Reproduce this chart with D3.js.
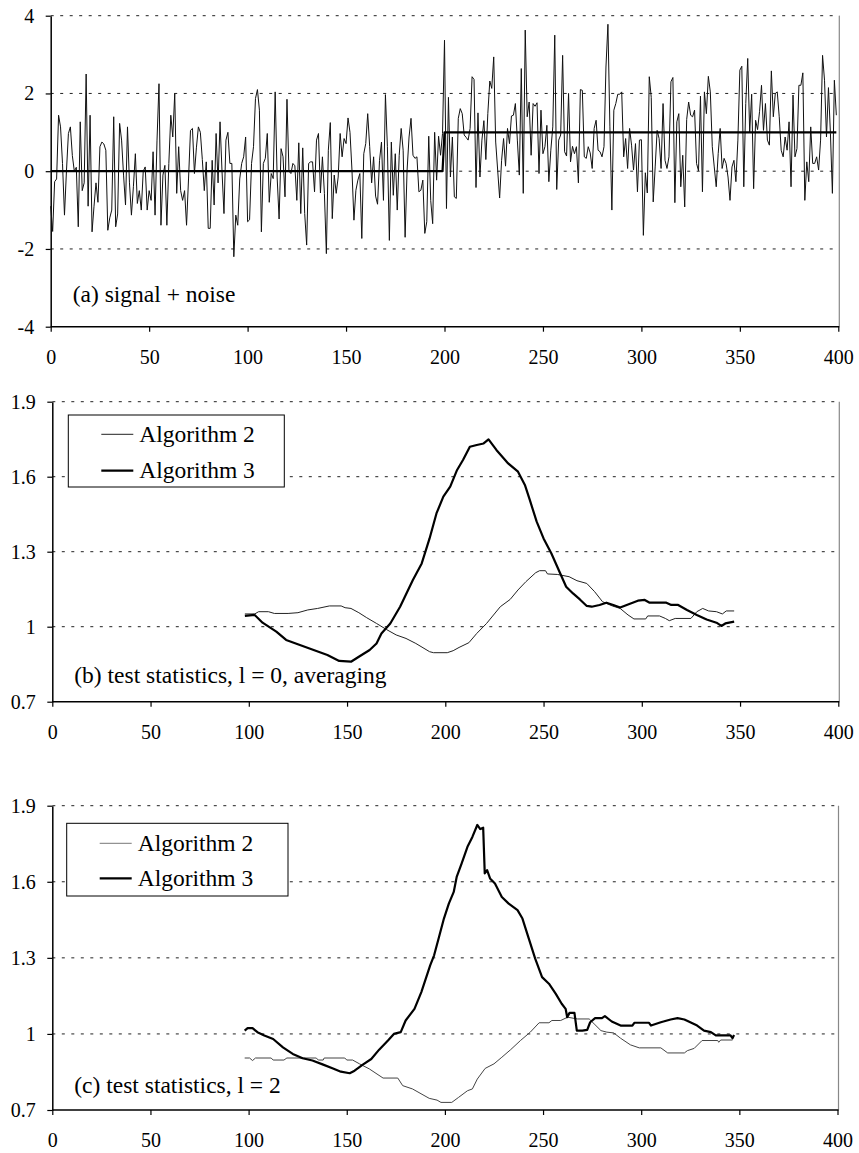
<!DOCTYPE html>
<html>
<head>
<meta charset="utf-8">
<script src="https://cdn.jsdelivr.net/npm/d3@7"></script>
<style>
  body { margin: 0; background: #fff; }
  svg { display: block; }
  text { font-family: "Liberation Serif", "Times New Roman", serif; fill: #000; }
</style>
</head>
<body>
<div id="root"></div>
<script>
// Size of the page
const width = 859;
const height = 1153;

// Tick values
const xTicks = [0, 50, 100, 150, 200, 250, 300, 350, 400];
const yTicksSignal = [-4, -2, 0, 2, 4];
const yTicksStat = [0.7, 1, 1.3, 1.6, 1.9];

// (a) noisy observations, one per sample 0..399
const noise = [
  -0.9, -1.55, -0.27, -0.2, 1.44, 1.14, 0.2, -1.13, 0.0, 0.97,
  1.14, 0.4, 0.0, 0.1, -1.43, 1.27, -0.5, -0.3, 2.5, -0.9,
  1.44, -1.56, -0.9, -0.3, -0.8, 0.63, 0.75, 0.7, 0.54, -1.52,
  -1.2, -1.0, 1.4, -1.43, -1.1, 1.23, 0.8, -0.1, -0.87, 1.14,
  -0.3, -1.13, -0.4, 0.45, -0.83, -0.5, -1.0, 0.0, 0.11, -1.0,
  -0.5, -0.75, 0.5, -1.13, 0.8, 2.25, -1.39, -0.1, 0.15, -1.39,
  0.2, 1.44, 0.88, 2.0, -0.57, 0.63, -0.5, -0.75, -0.5, -1.39,
  -0.2, 1.05, 1.1, -0.06, 0.6, 1.14, 1.0, 0.3, -0.5, 0.24,
  -1.47, -1.47, 0.28, -0.87, 0.97, -0.3, 1.27, 0.0, -1.09, 0.8,
  1.0, 0.2, 0.2, -2.2, -1.13, -1.39, -0.2, 0.2, 0.37, 0.88,
  -1.3, -1.25, 0.2, 0.63, 1.87, 2.1, 1.57, -1.56, 0.2, 0.33,
  0.97, -0.8, -0.06, -0.19, 2.04, -0.15, -1.23, 0.58, 0.37, -0.66,
  1.85, 0.0, -0.06, 0.2, 0.14, -0.75, 0.73, -1.09, 0.6, -1.09,
  -1.9, 0.2, 0.24, 0.24, -0.53, 0.8, 0.97, -0.56, 0.37, -0.57,
  -2.12, 0.54, 1.25, -1.22, -0.1, -0.57, -0.15, 0.97, 0.37, 0.84,
  0.71, 1.37, 1.0, 0.03, -1.26, -0.49, -0.23, -0.06, -1.73, 0.45,
  0.71, 1.48, 0.63, -0.3, 0.37, -0.64, -0.85, 0.28, 0.75, -0.75,
  1.97, 0.63, -1.78, 0.75, -0.62, 0.45, -1.0, 0.41, 1.1, 0.54,
  -1.7, 0.03, 0.88, 1.36, 0.41, 0.33, 0.37, -0.53, -0.49, -0.23,
  -1.6, -1.3, 0.9, -0.75, -1.35, 1.0, -0.23, 0.9, 0.41, 0.97,
  3.37, -0.96, 1.9, -0.15, 0.88, -0.66, -0.7, 1.36, 1.61, 1.48,
  0.93, 0.87, 0.8, 1.1, 2.43, 2.36, -0.42, 1.5, -0.15, 0.8,
  1.3, 0.3, 1.48, 2.32, 2.13, 2.94, 0.75, 0.03, -0.69, 0.28,
  0.84, 0.13, 1.1, 0.71, 1.42, 1.44, 1.74, 0.8, -0.1, 2.64,
  -0.57, 3.63, 1.4, 1.78, 0.41, 1.74, 1.67, 1.76, -0.06, 1.57,
  0.45, 0.63, 1.18, -0.27, 0.54, 1.14, 3.5, -0.47, 0.8, 0.93,
  2.98, 0.5, 0.39, 2.0, 0.24, 0.64, 0.45, 0.63, -0.3, 2.1,
  2.08, 0.37, 0.33, 0.63, 0.47, 0.07, 1.1, 1.31, 0.54, 0.5,
  0.37, 0.63, 2.68, 3.78, 1.14, -1.0, 1.57, 1.74, 1.98, 1.98,
  2.04, 0.37, 0.84, 0.07, 1.1, 0.67, 0.03, 0.71, -0.53, 0.8,
  0.81, -1.65, -0.04, -0.56, 2.43, 1.9, -0.79, 0.11, 1.05, 0.84,
  0.07, 1.74, 0.28, 0.07, 0.37, 2.3, 2.41, -0.81, 1.27, 1.48,
  -0.4, 0.41, -0.92, 1.33, 1.78, 1.44, 1.4, 1.57, 0.2, 0.01,
  1.93, -0.53, 2.04, 1.48, 2.44, 2.04, 0.63, 0.11, -0.4, 0.45,
  1.1, 0.07, 0.33, 0.2, -0.15, -0.75, 0.11, 0.28, -0.27, 0.8,
  2.6, 2.7, -0.4, 1.74, 2.9, 1.0, 1.98, -0.45, 1.31, 1.07,
  1.53, 2.21, 1.05, 1.74, 0.8, 0.67, 2.58, 1.4, 2.0, 2.04,
  1.4, 0.54, 0.37, 0.88, 0.54, 1.27, -0.4, 1.96, 0.37, 0.58,
  2.21, 2.21, 2.53, -0.75, 0.24, -0.27, 1.14, 0.2, 0.2, 0.37,
  0.03, 0.8, 2.98, 2.34, 0.88, 2.15, 0.97, -0.57, 2.34, 1.44
];

// (a) the true signal: a step from 0 to 1
const signalX = [0, 199, 200, 399];
const signalY = [0, 0, 1, 1];

// (b) test statistics, l = 0, averaging
const b2x = [98, 103, 105, 110, 113, 120, 125, 130, 135, 141, 147, 149, 152, 156, 160, 165, 170, 175, 180, 185,
  192, 194, 201, 204, 207, 212, 216, 221, 228, 233, 237, 241, 246, 248, 251, 252, 257, 263, 267, 272,
  276, 280, 285, 289, 293, 296, 302, 303, 309, 312, 314, 317, 325, 328, 331, 334, 338, 341, 343, 347];
const b2y = [1.051, 1.051, 1.06, 1.06, 1.053, 1.053, 1.056, 1.067, 1.073, 1.083, 1.083, 1.076, 1.073, 1.056, 1.036, 1.013, 0.989, 0.967, 0.953, 0.933,
  0.9, 0.896, 0.896, 0.904, 0.917, 0.936, 0.973, 1.013, 1.08, 1.109, 1.147, 1.18, 1.216, 1.224, 1.224, 1.211, 1.209, 1.2, 1.184, 1.173,
  1.14, 1.1, 1.083, 1.073, 1.047, 1.031, 1.031, 1.043, 1.043, 1.033, 1.024, 1.033, 1.033, 1.06, 1.073, 1.063, 1.06, 1.051, 1.063, 1.063];
const b3x = [98, 103, 107, 114, 119, 126, 133, 140, 146, 152, 156, 161.5, 165, 167.5, 172, 177, 183.5, 188, 192, 195.5,
  199, 202.5, 206, 209, 212.5, 216, 219.5, 222, 226, 232, 237, 240.5, 243, 246.5, 250, 254, 258.5, 261.5, 265, 268.5,
  272, 274.5, 278.5, 282, 285.5, 289, 293, 298, 301.5, 304, 312.5, 315, 318.5, 323, 328, 333, 338, 340.5, 342.5, 347];
const b3y = [1.043, 1.047, 1.016, 0.98, 0.947, 0.927, 0.907, 0.887, 0.863, 0.86, 0.88, 0.907, 0.933, 0.973, 1.013, 1.08, 1.187, 1.253, 1.353, 1.453,
  1.52, 1.56, 1.627, 1.667, 1.72, 1.727, 1.733, 1.749, 1.707, 1.653, 1.62, 1.567, 1.507, 1.42, 1.353, 1.293, 1.213, 1.16, 1.133, 1.109,
  1.083, 1.08, 1.087, 1.096, 1.087, 1.077, 1.089, 1.104, 1.107, 1.096, 1.096, 1.087, 1.087, 1.067, 1.047, 1.029, 1.016, 1.003, 1.013, 1.02];

// (c) test statistics, l = 2
const c2x = [98, 100.5, 102, 103.5, 111.5, 112.5, 118, 119.5, 134.5, 135.5, 138, 138.5, 149, 150, 153, 156.5, 161.5, 168.5, 176, 178.5,
  183.5, 192, 196, 198, 203.5, 207, 211.5, 214, 216.5, 220.5, 225, 229, 233.5, 238.5, 243.5, 248, 253, 254.5, 259, 262.5,
  267.5, 273.5, 276, 279.5, 282.5, 286, 289.5, 294.5, 299, 310, 313.5, 322, 323.5, 327, 331, 339, 339.5, 340.5, 346.5];
const c2y = [0.905, 0.905, 0.895, 0.905, 0.905, 0.897, 0.897, 0.905, 0.905, 0.897, 0.897, 0.905, 0.905, 0.897, 0.897, 0.882, 0.862, 0.826, 0.826, 0.796,
  0.783, 0.746, 0.739, 0.73, 0.73, 0.75, 0.776, 0.783, 0.822, 0.864, 0.882, 0.908, 0.938, 0.974, 1.007, 1.044, 1.044, 1.053, 1.053, 1.066,
  1.059, 1.059, 1.04, 1.013, 1.007, 1.004, 0.983, 0.957, 0.945, 0.945, 0.925, 0.925, 0.934, 0.943, 0.974, 0.974, 0.967, 0.976, 0.976];
const c3x = [98, 99.5, 102, 104.5, 108, 112.5, 117.5, 122.5, 127.5, 132.5, 138, 143, 147, 151.5, 154, 158, 162.5, 166.5, 171, 174,
  177.5, 180, 184.5, 188, 192.5, 194.5, 197, 199.5, 202, 204.5, 206, 208.5, 211.5, 214, 216.5, 218, 219.5, 220.3, 221.5, 223,
  225.5, 229, 232.5, 237, 239.5, 242.5, 246, 249.5, 253, 256.5, 259.5, 261.5, 262.3, 263.5, 266, 267.2, 270, 272.5, 274, 276.5,
  280, 281.5, 285, 289.5, 295.5, 296.5, 304, 305, 310, 315, 318.5, 322, 325, 328.5, 332, 335.5, 338, 345.5, 346.5, 347.3];
const c3y = [1.013, 1.023, 1.023, 1.007, 0.994, 0.98, 0.947, 0.921, 0.904, 0.895, 0.879, 0.864, 0.851, 0.845, 0.855, 0.878, 0.901, 0.938, 0.974, 1.0,
  1.007, 1.053, 1.099, 1.165, 1.27, 1.31, 1.382, 1.455, 1.514, 1.56, 1.619, 1.672, 1.738, 1.777, 1.824, 1.808, 1.813, 1.633, 1.646, 1.613,
  1.593, 1.54, 1.514, 1.488, 1.455, 1.382, 1.297, 1.224, 1.198, 1.158, 1.119, 1.099, 1.066, 1.083, 1.083, 1.013, 1.013, 1.016, 1.046, 1.062,
  1.062, 1.07, 1.049, 1.033, 1.033, 1.044, 1.044, 1.033, 1.046, 1.057, 1.062, 1.057, 1.046, 1.033, 1.013, 1.007, 0.994, 0.994, 0.983, 0.996];

const seriesNames = ["Algorithm 2", "Algorithm 3"];

// Creating svg
const svg = d3
  .select("#root")
  .append("svg")
  .attr("width", width)
  .attr("height", height);

// Draws the frame of one panel and hands back its scales
function drawFrame(p) {
  const x = d3.scaleLinear().domain([0, 400]).range([p.left, p.right]);
  const y = d3.scaleLinear().domain(p.yDomain).range([p.bottom, p.top]);
  const g = svg.append("g");

  // dotted gridlines (the top one doubles as the frame)
  g.selectAll("line.grid")
    .data(p.yTicks.slice(1))
    .enter()
    .append("line")
    .attr("class", "grid")
    .attr("x1", p.left)
    .attr("x2", p.right + 1)
    .attr("y1", d => y(d))
    .attr("y2", d => y(d))
    .attr("stroke", "#222")
    .attr("stroke-width", 1)
    .attr("stroke-dasharray", "3,6.5");

  // grey right edge
  g.append("line")
    .attr("x1", p.right + 1)
    .attr("x2", p.right + 1)
    .attr("y1", p.top)
    .attr("y2", p.bottom)
    .attr("stroke", "#888")
    .attr("stroke-width", 1.2);

  const xAxis = d3.axisBottom(x).tickValues(xTicks).tickSize(5).tickPadding(18).tickSizeOuter(0).tickFormat(d => String(d));
  const yAxis = d3.axisLeft(y).tickValues(p.yTicks).tickSize(5).tickPadding(11.5).tickSizeOuter(0).tickFormat(d => String(d));

  const gx = g.append("g").attr("transform", "translate(0," + p.bottom + ")").call(xAxis);
  const gy = g.append("g").attr("transform", "translate(" + p.left + ",0)").call(yAxis);

  [gx, gy].forEach(a => {
    a.attr("font-family", null).attr("font-size", null);
    a.select(".domain").attr("stroke", "#000").attr("stroke-width", 1.5);
    a.selectAll(".tick line").attr("stroke", "#000").attr("stroke-width", 1.2);
    a.selectAll(".tick text").style("font-size", "20px").attr("fill", "#000");
  });
  gx.select(".domain").attr("d", "M" + p.left + ",0H" + (p.right + 1));

  g.append("text")
    .attr("x", p.left + 22)
    .attr("y", p.labelY)
    .style("font-size", "23.5px")
    .text(p.label);

  return { x, y, g };
}

function drawPath(g, xs, ys, x, y, color, widthPx) {
  const line = d3
    .line()
    .x(d => x(d[0]))
    .y(d => y(d[1]));
  g.append("path")
    .datum(d3.zip(xs, ys))
    .attr("fill", "none")
    .attr("stroke", color)
    .attr("stroke-width", widthPx)
    .attr("stroke-linejoin", "round")
    .attr("d", line);
}

function drawLegend(g, lg, colors, widths) {
  g.append("rect")
    .attr("x", lg.x)
    .attr("y", lg.y)
    .attr("width", lg.w)
    .attr("height", lg.h)
    .attr("fill", "#fff")
    .attr("stroke", "#000")
    .attr("stroke-width", 1);
  seriesNames.forEach((name, i) => {
    const cy = lg.y + lg.rows[i];
    g.append("line")
      .attr("x1", lg.x + 33)
      .attr("x2", lg.x + 65)
      .attr("y1", cy)
      .attr("y2", cy)
      .attr("stroke", colors[i])
      .attr("stroke-width", widths[i]);
    g.append("text")
      .attr("x", lg.x + 71)
      .attr("y", cy + 7.5)
      .style("font-size", "23.5px")
      .text(name);
  });
}

// Panel (a)
const pa = drawFrame({
  left: 50.7, right: 838.3, top: 15.7, bottom: 326.7,
  yDomain: [-4, 4], yTicks: yTicksSignal,
  label: "(a) signal + noise", labelY: 301.7
});
drawPath(pa.g, d3.range(noise.length), noise, pa.x, pa.y, "#111", 1);
drawPath(pa.g, signalX, signalY, pa.x, pa.y, "#000", 2.2);

// Panel (b)
const pb = drawFrame({
  left: 52.3, right: 838.3, top: 401.7, bottom: 701.7,
  yDomain: [0.7, 1.9], yTicks: yTicksStat,
  label: "(b) test statistics, l = 0, averaging", labelY: 683
});
drawPath(pb.g, b2x, b2y, pb.x, pb.y, "#222", 1);
drawPath(pb.g, b3x, b3y, pb.x, pb.y, "#000", 2.2);
drawLegend(pb.g, { x: 68.3, y: 415, w: 216, h: 72, rows: [19.3, 55.7] }, ["#222", "#000"], [1, 2.2]);

// Panel (c)
const pc = drawFrame({
  left: 52.3, right: 837.5, top: 805.7, bottom: 1110,
  yDomain: [0.7, 1.9], yTicks: yTicksStat,
  label: "(c) test statistics, l = 2", labelY: 1093.3
});
drawPath(pc.g, c2x, c2y, pc.x, pc.y, "#444", 1);
drawPath(pc.g, c3x, c3y, pc.x, pc.y, "#000", 2.2);
drawLegend(pc.g, { x: 66.7, y: 823.3, w: 221.3, h: 72.7, rows: [20, 55] }, ["#777", "#000"], [1, 2.2]);
</script>
</body>
</html>
